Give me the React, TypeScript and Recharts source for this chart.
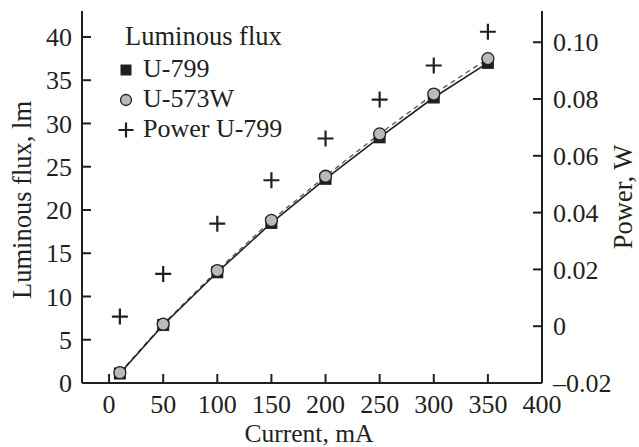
import React from "react";
import { ComposedChart, Line, XAxis, YAxis, Legend } from "recharts";

// values
const current = [10, 50, 100, 150, 200, 250, 300, 350];
const fluxU799 = [1.1, 6.7, 12.8, 18.5, 23.6, 28.4, 33.0, 37.0];
const fluxU573W = [1.2, 6.8, 13.0, 18.8, 23.9, 28.8, 33.4, 37.5];
const powerU799 = [0.0034, 0.0184, 0.0361, 0.0514, 0.0661, 0.0798, 0.0918, 0.1037];

const currentTicks = [0, 50, 100, 150, 200, 250, 300, 350, 400];
const fluxTicks = [0, 5, 10, 15, 20, 25, 30, 35, 40];
const powerTicks = [-0.02, 0, 0.02, 0.04, 0.06, 0.08, 0.1];

const legendTitle = "Luminous flux";
const seriesNames = ["U-799", "U-573W", "Power U-799"];

const INK = "#231f20";
const FONT = "Liberation Serif, Times New Roman, serif";

const data = current.map((c, i) => ({
  current: c,
  u799: fluxU799[i],
  u573w: fluxU573W[i],
  power: powerU799[i],
}));

const fmtPower = (v: number) =>
  v === 0 ? "0" : v < 0 ? "\u2013" + Math.abs(v).toFixed(2) : v.toFixed(2);

const Square = ({ cx, cy, size = 12 }: any) => (
  <rect x={cx - size / 2} y={cy - size / 2} width={size} height={size} fill={INK} />
);
const Circle = ({ cx, cy, r = 6 }: any) => (
  <circle cx={cx} cy={cy} r={r} fill="#bababa" stroke={INK} strokeWidth={1.3} />
);
const Cross = ({ cx, cy, h = 8 }: any) => (
  <path
    d={`M${cx - h},${cy}H${cx + h}M${cx},${cy - h}V${cy + h}`}
    stroke={INK}
    strokeWidth={2.2}
    fill="none"
  />
);

const textStyle = { fontFamily: FONT };
const tickStyle = { fill: INK, fontSize: 26, fontFamily: FONT, style: textStyle };

function titleContent(kind: "x" | "left" | "right") {
  return (props: any) => {
    const vb = props.viewBox || { x: 0, y: 0, width: 0, height: 0 };
    const text = props.value;
    if (kind === "x") {
      return (
        <text x={vb.x + vb.width / 2 - 3} y={vb.y + 59} textAnchor="middle" fill={INK} fontSize={25.5} style={textStyle}>
          {text}
        </text>
      );
    }
    const cx = kind === "left" ? vb.x + 31 : vb.x + 90;
    const cy = vb.y + vb.height / 2 + (kind === "left" ? 3 : 0);
    return (
      <text x={cx} y={cy} transform={`rotate(-90 ${cx} ${cy})`} textAnchor="middle" fill={INK} fontSize={26.5} style={textStyle}>
        {text}
      </text>
    );
  };
}

function LegendBox() {
  const rowY = [60, 90, 120];
  return (
    <svg width={240} height={140} style={{ display: "block" }}>
      <text x={15} y={35} fill={INK} fontSize={26.5} style={textStyle}>
        {legendTitle}
      </text>
      <Square cx={16} cy={rowY[0]} size={11} />
      <Circle cx={16} cy={rowY[1]} r={5.5} />
      <Cross cx={16} cy={rowY[2]} h={7.5} />
      {seriesNames.map((name, i) => (
        <text key={name} x={33} y={rowY[i] + 7} fill={INK} fontSize={26} style={textStyle}>
          {name}
        </text>
      ))}
    </svg>
  );
}

export default function App() {
  return (
    <div style={{ position: "absolute", left: 0, top: 0, width: 639, height: 447, background: "#fff", fontFamily: FONT }}>
      <ComposedChart width={639} height={447} data={data} margin={{ top: 11, right: 0, bottom: 0, left: 0 }} style={textStyle}>
        <XAxis
          dataKey="current"
          type="number"
          domain={[-25, 400]}
          ticks={currentTicks}
          interval={0}
          allowDataOverflow
          height={64}
          tickSize={-9}
          tickMargin={21}
          stroke={INK}
          strokeWidth={2}
          tick={tickStyle}
          label={{ value: "Current, mA", content: titleContent("x") }}
        />
        <YAxis
          yAxisId="left"
          type="number"
          domain={[0, 43]}
          ticks={fluxTicks}
          interval={0}
          allowDataOverflow
          width={82}
          tickSize={-9}
          tickMargin={19}
          stroke={INK}
          strokeWidth={2}
          tick={tickStyle}
          label={{ value: "Luminous flux, lm", content: titleContent("left") }}
        />
        <YAxis
          yAxisId="right"
          orientation="right"
          type="number"
          domain={[-0.02, 0.111]}
          ticks={powerTicks}
          interval={0}
          allowDataOverflow
          width={97}
          tickSize={-9}
          tickMargin={20}
          stroke={INK}
          strokeWidth={2}
          tick={tickStyle}
          tickFormatter={fmtPower}
          label={{ value: "Power, W", content: titleContent("right") }}
        />
        <Legend
          layout="vertical"
          align="center"
          verticalAlign="middle"
          wrapperStyle={{ left: 110, top: 10, width: 240, height: 140 }}
          content={() => <LegendBox />}
        />
        {/* lines first, markers on top */}
        <Line yAxisId="left" dataKey="u573w" type="linear" stroke="#555" strokeWidth={1.3} strokeDasharray="5 4" dot={false} legendType="none" isAnimationActive={false} />
        <Line yAxisId="left" dataKey="u799" type="linear" stroke={INK} strokeWidth={1.6} dot={false} legendType="none" isAnimationActive={false} />
        <Line
          yAxisId="left"
          dataKey="u799"
          name={seriesNames[0]}
          stroke="none"
          dot={(p: any) => <Square key={`sq-${p.index}`} cx={p.cx} cy={p.cy} />}
          activeDot={false}
          isAnimationActive={false}
        />
        <Line
          yAxisId="left"
          dataKey="u573w"
          name={seriesNames[1]}
          stroke="none"
          dot={(p: any) => <Circle key={`ci-${p.index}`} cx={p.cx} cy={p.cy} />}
          activeDot={false}
          isAnimationActive={false}
        />
        <Line
          yAxisId="right"
          dataKey="power"
          name={seriesNames[2]}
          stroke="none"
          dot={(p: any) => <Cross key={`cr-${p.index}`} cx={p.cx} cy={p.cy} />}
          activeDot={false}
          isAnimationActive={false}
        />
      </ComposedChart>
    </div>
  );
}
